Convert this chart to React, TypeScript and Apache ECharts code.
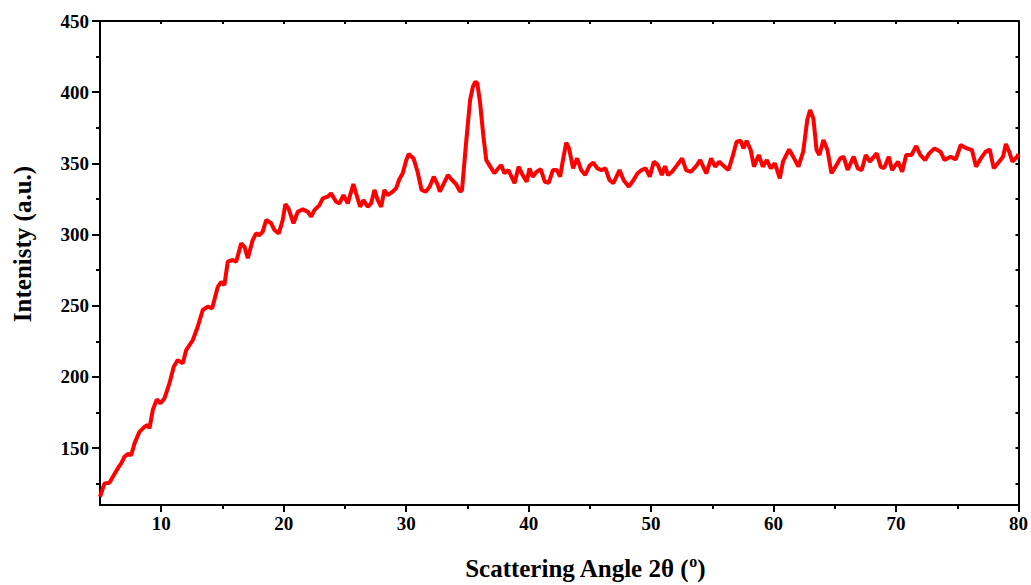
import React, { useEffect, useRef } from "react";
import * as echarts from "echarts";

const angles: number[] = [
  5.0, 5.37, 5.77, 6.05, 6.45, 6.73, 7.0, 7.27, 7.55, 7.82, 8.22, 8.63, 8.9, 9.04, 9.31, 9.64, 9.94, 10.27, 10.67,
  11.02, 11.35, 11.76, 12.04, 12.58, 12.98, 13.39, 13.8, 14.16, 14.62, 14.9, 15.16, 15.43, 15.84, 16.12, 16.53, 16.8,
  17.07, 17.47, 17.75, 18.02, 18.29, 18.57, 18.98, 19.24, 19.6, 19.92, 20.14, 20.39, 20.8, 21.15, 21.56, 21.96, 22.24,
  22.51, 22.92, 23.19, 23.6, 23.87, 24.28, 24.55, 24.88, 25.23, 25.69, 25.91, 26.24, 26.51, 26.86, 27.14, 27.41, 27.68,
  27.96, 28.22, 28.49, 28.9, 29.18, 29.45, 29.72, 30.0, 30.21, 30.4, 30.6, 30.93, 31.26, 31.59, 31.92, 32.25, 32.58,
  32.75, 33.08, 33.41, 33.74, 34.07, 34.4, 34.56, 34.89, 35.22, 35.45, 35.65, 35.81, 36.04, 36.31, 36.54, 36.87, 37.2,
  37.53, 37.76, 38.02, 38.35, 38.85, 39.18, 39.51, 39.84, 40.07, 40.33, 40.66, 40.99, 41.32, 41.65, 41.98, 42.31, 42.57,
  42.8, 43.07, 43.3, 43.63, 43.96, 44.29, 44.62, 44.95, 45.28, 45.61, 45.94, 46.27, 46.6, 46.92, 47.42, 47.75, 48.18,
  48.57, 48.9, 49.23, 49.56, 49.89, 50.22, 50.55, 50.88, 51.14, 51.38, 51.71, 52.03, 52.53, 52.86, 53.25, 53.68, 54.01,
  54.51, 54.9, 55.23, 55.56, 55.99, 56.32, 56.65, 56.98, 57.31, 57.54, 57.8, 58.13, 58.4, 58.79, 59.12, 59.45, 59.78,
  60.11, 60.51, 60.77, 61.27, 61.6, 62.03, 62.42, 62.75, 62.98, 63.25, 63.51, 63.74, 64.07, 64.4, 64.73, 65.06, 65.45,
  65.72, 66.05, 66.54, 66.87, 67.2, 67.53, 67.86, 68.42, 68.75, 69.02, 69.41, 69.67, 70.17, 70.5, 70.83, 71.26, 71.65,
  71.98, 72.38, 72.71, 73.14, 73.63, 73.96, 74.46, 74.88, 75.28, 75.77, 76.2, 76.53, 76.93, 77.32, 77.65, 77.98, 78.41,
  78.74, 78.97, 79.24, 79.5, 79.9, 80.0,
];

const intensity: number[] = [
  115.8, 125.2, 125.6, 129.8, 135.7, 139.2, 143.9, 145.8, 145.1, 153.3, 161.4, 164.9, 166.1, 163.8, 176.7, 184.2, 181.4,
  185, 195.4, 207.1, 211.8, 209.5, 218.8, 225.9, 235.2, 247, 249.3, 248.2, 263.3, 266.8, 264.5, 280.9, 282.1, 280.9,
  293.8, 291.4, 283.3, 296.1, 300.8, 299.6, 302, 310.2, 307.9, 303.2, 300.8, 310.2, 321.4, 318.4, 307.9, 316, 317.7, 316,
  312.5, 317.2, 320.7, 325.4, 326.6, 328.9, 323, 321.9, 327.7, 321.9, 335.5, 328.9, 319.5, 324.2, 319.5, 321.9, 331.3,
  324.2, 319.5, 331.3, 327.7, 330.1, 332.5, 339, 343, 352, 356.6, 355, 353.5, 344.1, 331.3, 330.1, 333.6, 340.6, 334.8,
  330.1, 336, 341.8, 338.3, 335.5, 330.1, 331.3, 364.1, 394.5, 403.9, 407.4, 406.2, 392.2, 368.7, 352.3, 347.7, 343,
  346.5, 348.8, 343, 345.3, 336, 347.7, 341.8, 337.1, 346.5, 340.6, 344.1, 345.8, 337.1, 336.4, 345.3, 345.3, 340.6,
  352.3, 364.5, 360.5, 346.5, 353.5, 345.3, 341.8, 348.1, 350.5, 346.5, 345.3, 346.5, 338.3, 336, 345.3, 338.3, 333.6,
  338.3, 343, 345.3, 346.5, 340.6, 351.2, 348.8, 341.8, 348.1, 341.8, 344.1, 347.7, 353.5, 345.3, 344.1, 348.1, 352.3,
  343, 353.5, 347.7, 351.2, 347.7, 345.3, 354.7, 365.2, 365.9, 360.5, 365.9, 359.4, 347.7, 355.9, 347.7, 352.3, 346.5,
  350, 339.5, 351.2, 359.8, 354.7, 347.7, 358.2, 380.4, 387.5, 381.6, 359.4, 355.9, 366.4, 359.4, 343, 347.7, 353.5,
  354.7, 345.3, 354.7, 346.5, 345.3, 355.9, 351.2, 357, 347.7, 346.5, 354.7, 345.3, 351.2, 344.1, 355.9, 355.9, 362.2,
  355.9, 352.3, 357, 360.5, 358.2, 352.3, 354.7, 352.8, 362.9, 360.5, 359.4, 347.7, 353.5, 358.2, 359.8, 346.5, 351.2,
  354.7, 363.6, 358.2, 351.2, 354.7, 356.5,
];

const xMajorTicks: number[] = [10, 20, 30, 40, 50, 60, 70, 80];
const xMinorTicks: number[] = [15, 25, 35, 45, 55, 65, 75];
const yMajorTicks: number[] = [150, 200, 250, 300, 350, 400, 450];
const yMinorTicks: number[] = [125, 175, 225, 275, 325, 375, 425];

const xTitle = "Scattering Angle 2θ (";
const yTitle = "Intenisty (a.u.)";

const FONT = "'Liberation Serif', 'Times New Roman', serif";

export default function App() {
  const ref = useRef<HTMLDivElement>(null);
  useEffect(() => {
    if (!ref.current) return;
    const chart = echarts.init(ref.current, null, { renderer: "svg" });
    const lineStyle = { color: "#000", width: 2 };
    const allX = [...xMajorTicks, ...xMinorTicks].sort((a, b) => a - b);
    const allY = [...yMajorTicks, ...yMinorTicks].sort((a, b) => a - b);
    const data = angles.map((a, i) => [a, intensity[i]]);
    chart.setOption({
      animation: false,
      backgroundColor: "#fff",
      grid: { left: 100, right: 12, top: 21, bottom: 80, containLabel: false },
      xAxis: [
        {
          type: "value", min: 5, max: 80, position: "bottom",
          axisLine: { show: true, onZero: false, lineStyle },
          axisTick: { show: true, customValues: xMajorTicks, length: 7, lineStyle },
          axisLabel: { show: true, customValues: xMajorTicks, color: "#000", fontFamily: FONT, fontWeight: "bold", fontSize: 19, margin: 9 },
          splitLine: { show: false },
        },
        {
          type: "value", min: 5, max: 80, position: "bottom",
          axisLine: { show: false, onZero: false },
          axisTick: { show: true, customValues: xMinorTicks, length: 4, lineStyle },
          axisLabel: { show: false },
          splitLine: { show: false },
        },
        {
          type: "value", min: 5, max: 80, position: "top",
          axisLine: { show: true, onZero: false, lineStyle },
          axisTick: { show: true, inside: true, customValues: allX, length: 3, lineStyle },
          axisLabel: { show: false },
          splitLine: { show: false },
        },
      ],
      yAxis: [
        {
          type: "value", min: 110, max: 450, position: "left",
          axisLine: { show: true, onZero: false, lineStyle },
          axisTick: { show: true, customValues: yMajorTicks, length: 8, lineStyle },
          axisLabel: { show: true, customValues: yMajorTicks, color: "#000", fontFamily: FONT, fontWeight: "bold", fontSize: 19, margin: 11 },
          splitLine: { show: false },
        },
        {
          type: "value", min: 110, max: 450, position: "left",
          axisLine: { show: false, onZero: false },
          axisTick: { show: true, customValues: yMinorTicks, length: 4, lineStyle },
          axisLabel: { show: false },
          splitLine: { show: false },
        },
        {
          type: "value", min: 110, max: 450, position: "right",
          axisLine: { show: true, onZero: false, lineStyle },
          axisTick: { show: true, inside: true, customValues: allY, length: 3, lineStyle },
          axisLabel: { show: false },
          splitLine: { show: false },
        },
      ],
      series: [
        {
          type: "line",
          xAxisIndex: 0,
          yAxisIndex: 0,
          data,
          showSymbol: false,
          smooth: false,
          lineStyle: { color: "#ff0000", width: 4 },
          z: 1,
        },
      ],
      graphic: [
        {
          type: "text",
          x: 22,
          y: 244,
          rotation: Math.PI / 2,
          style: {
            text: yTitle,
            fill: "#000",
            font: `bold 25px ${FONT}`,
            align: "center",
            verticalAlign: "middle",
          },
        },
        {
          type: "text",
          x: 585,
          y: 553,
          style: {
            text: xTitle + "{sup|o})",
            fill: "#000",
            font: `bold 25px ${FONT}`,
            lineHeight: 30,
            align: "center",
            verticalAlign: "top",
            rich: {
              sup: { fontSize: 16, fontWeight: "bold", fontFamily: FONT, fill: "#000", verticalAlign: "top", lineHeight: 14 },
            },
          },
        },
      ],
    });
    return () => chart.dispose();
  }, []);
  return (
    <div
      ref={ref}
      style={{ position: "absolute", left: 0, top: 0, width: 1031, height: 585 }}
    />
  );
}
